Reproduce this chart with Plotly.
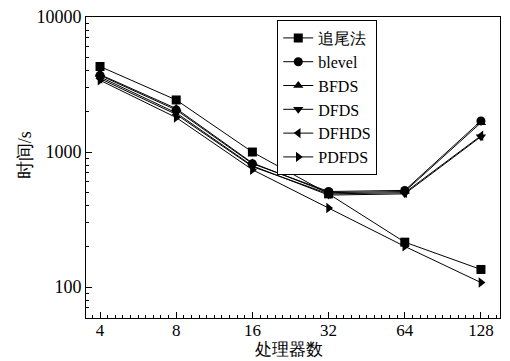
import math
import plotly.graph_objects as go

processors = [4, 8, 16, 32, 64, 128]
tick_labels = ["4", "8", "16", "32", "64", "128"]

series_names = ["追尾法", "blevel", "BFDS", "DFDS", "DFHDS", "PDFDS"]
chase = [4300, 2430, 1000, 490, 215, 135]
blevel = [3700, 2050, 820, 510, 520, 1700]
bfds = [3750, 2100, 830, 500, 510, 1650]
dfds = [3600, 1950, 790, 480, 490, 1300]
dfhds = [3500, 1900, 780, 490, 500, 1320]
pdfds = [3400, 1800, 740, 385, 200, 108]

values = [chase, blevel, bfds, dfds, dfhds, pdfds]
symbols = ["square", "circle", "triangle-up", "triangle-down", "triangle-left", "triangle-right"]

FONT = "Liberation Serif"

fig = go.Figure()
for name, vals, sym in zip(series_names, values, symbols):
    fig.add_trace(go.Scatter(
        x=processors, y=vals, name=name, mode="lines+markers",
        line=dict(color="black", width=1),
        marker=dict(symbol=sym, size=9, color="black"),
    ))

fig.update_layout(
    width=510, height=361,
    margin=dict(l=86, r=10, t=17, b=43),
    paper_bgcolor="white", plot_bgcolor="white",
    font=dict(family=FONT, size=18, color="black"),
    showlegend=True,
    legend=dict(
        x=0.462, y=0.99, xanchor="left", yanchor="top",
        bordercolor="black", borderwidth=1, bgcolor="white",
        font=dict(family=FONT, size=16), tracegroupgap=0,
        itemwidth=30,
    ),
    annotations=[
        dict(text="处理器数", xref="paper", yref="paper", x=0.49, y=-0.1425,
             xanchor="center", yanchor="bottom", showarrow=False,
             font=dict(family=FONT, size=17)),
        dict(text="时间/s", xref="paper", yref="paper", x=-0.147, y=0.5415,
             xanchor="center", yanchor="middle", showarrow=False, textangle=-90,
             font=dict(family=FONT, size=18)),
    ],
)

fig.update_xaxes(
    type="log", automargin=False,
    range=[math.log10(2 ** 1.816), math.log10(2 ** 7.25)],
    tickvals=processors, ticktext=tick_labels,
    ticks="inside", ticklen=6, tickcolor="black",
    ticklabelstandoff=-3,
    showline=True, linecolor="black", linewidth=1, mirror=True,
    showgrid=False, zeroline=False,
    minor=dict(ticks="inside", ticklen=3, tickcolor="black",
               dtick=math.log10(2) / 10, tick0=math.log10(4), showgrid=False),
    tickfont=dict(size=17, family=FONT),
)
fig.update_yaxes(
    type="log", automargin=False,
    range=[math.log10(59), 4],
    tickvals=[100, 1000, 10000], ticktext=["100", "1000", "10000"],
    ticks="inside", ticklen=6, tickcolor="black",
    showline=True, linecolor="black", linewidth=1, mirror=True,
    showgrid=False, zeroline=False,
    minor=dict(ticks="inside", ticklen=3, tickcolor="black", dtick="D1", showgrid=False),
    tickfont=dict(size=18, family=FONT),
)

fig.write_html("out.html", config={"displayModeBar": False},
               post_script="document.body.style.margin='0px';document.body.style.padding='0px';")
